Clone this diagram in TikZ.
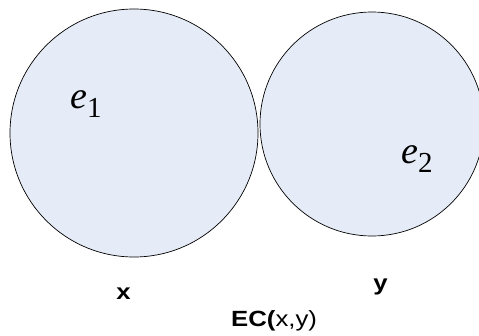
\documentclass[tikz,border=0pt]{standalone}
\usepackage{fontspec}
\setmainfont{Liberation Serif}
\newfontfamily\arialf{Liberation Sans}
\definecolor{regfill}{RGB}{230,236,247}
\begin{document}
\begin{tikzpicture}[x=1pt,y=-1pt,
  region/.style={circle,draw=black,line width=0.7pt,fill=regfill,inner sep=0pt},
  lbl/.style={font=\arialf\fontsize{22}{22}\selectfont,inner sep=0pt,xscale=1.17},
  ename/.style={inner sep=0pt,anchor=base west}]
\useasboundingbox (0,0) rectangle (479,335);
\node[region,minimum size=248pt] (c1) at (134,133) {};
\node[region,minimum size=224pt] (c2) at (372,124) {};
\node[ename] (e1) at (70,108) {\fontsize{38}{38}\selectfont\textit{e}\raisebox{-9pt}{\fontsize{29}{29}\selectfont 1}};
\node[ename] (e2) at (401,163) {\fontsize{38}{38}\selectfont\textit{e}\raisebox{-9pt}{\fontsize{29}{29}\selectfont 2}};
\node[lbl,anchor=base] (lx) at (123.5,299) {\textbf{x}};
\node[lbl,anchor=base] (ly) at (380.5,290) {\textbf{y}};
\node[lbl,anchor=base west] (ec) at (231,326) {\textbf{EC(}x,y)};
\end{tikzpicture}
\end{document}
